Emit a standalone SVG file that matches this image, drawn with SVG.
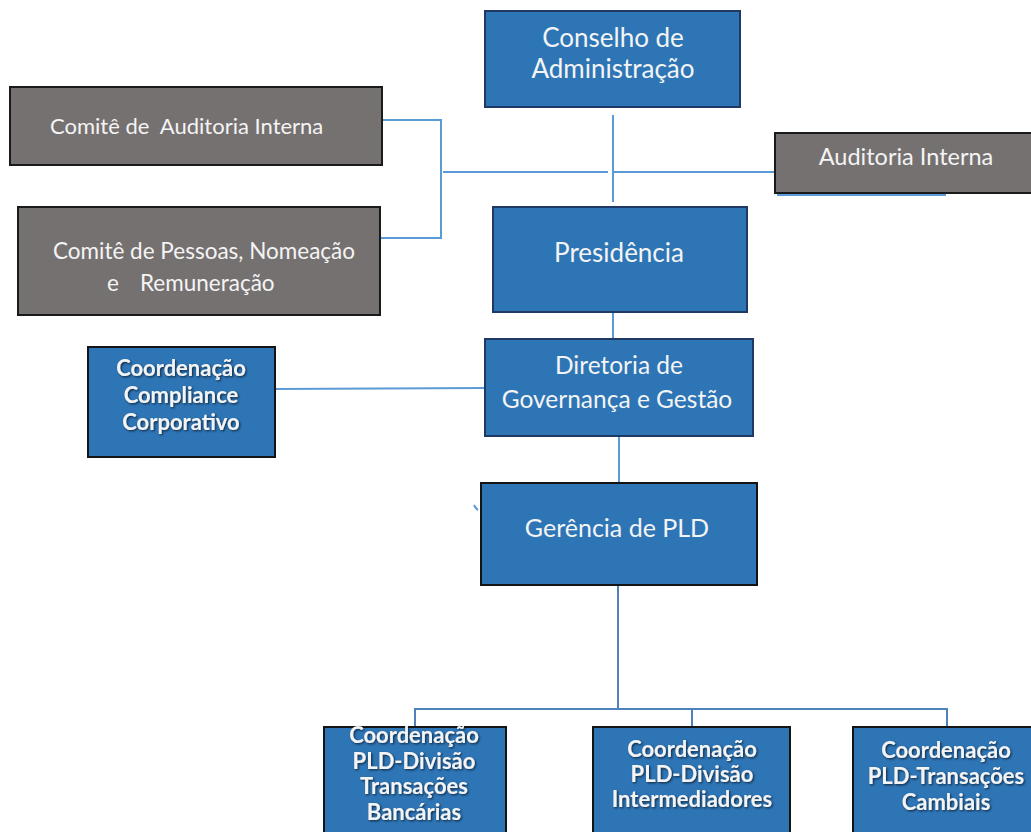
<svg xmlns="http://www.w3.org/2000/svg" width="1031" height="832" viewBox="0 0 1031 832">
<defs>
<filter id="sh" x="-10%" y="-30%" width="120%" height="160%">
<feDropShadow dx="1.2" dy="1.2" stdDeviation="0.9" flood-color="#000" flood-opacity="0.65"/>
</filter>
</defs>
<style>
.blue{fill:#2E75B6;stroke:#1F3864;stroke-width:2}
.blueb{fill:#2E75B6;stroke:#141414;stroke-width:2}
.gray{fill:#767171;stroke:#1a1a1a;stroke-width:2}
.t{font-family:Lato,"Open Sans","DejaVu Sans",sans-serif;fill:#F4F4F4;text-anchor:middle}
.tl{font-family:Lato,"Open Sans","DejaVu Sans",sans-serif;fill:#F4F4F4;white-space:pre}
.b{font-family:Lato,"Open Sans","DejaVu Sans",sans-serif;font-weight:bold;fill:#F4F4F4;text-anchor:middle;font-size:22px;filter:url(#sh)}
.c{stroke:#5B9BD5;stroke-width:2;fill:none}
.c2{stroke:#4F81BD;stroke-width:2;fill:none}
</style>
<rect width="1031" height="832" fill="#fff"/>
<g id="connectors">
<line class="c" x1="613" y1="115" x2="613" y2="202"/>
<line class="c" x1="443" y1="172" x2="608" y2="172"/>
<line class="c" x1="614" y1="172" x2="778" y2="172"/>
<line class="c" x1="441" y1="119" x2="441" y2="239"/>
<line class="c" x1="382" y1="120" x2="442" y2="120"/>
<line class="c" x1="380" y1="238" x2="442" y2="238"/>
<line class="c" x1="777" y1="195" x2="946" y2="195"/>
<line class="c" x1="613" y1="312" x2="613" y2="339"/>
<line class="c" x1="275" y1="389" x2="485" y2="388"/>
<line class="c" x1="619" y1="436" x2="619" y2="482"/>
<line class="c2" x1="618" y1="585" x2="618" y2="709"/>
<polyline class="c2" points="415,727 415,709 947,709 947,727"/>
<line class="c2" x1="692" y1="709" x2="692" y2="727"/>
<path class="c" d="M474,505 Q476,509 478,510" stroke-width="1.2"/>
</g>
<g id="conselho">
<rect class="blue" x="485" y="11" width="255" height="96"/>
<text class="t" x="613" y="47" font-size="26">Conselho de</text>
<text class="t" x="613" y="78" font-size="26">Administração</text>
</g>
<g id="comite-auditoria">
<rect class="gray" x="10" y="87" width="372" height="78"/>
<text class="tl" x="50" y="134" font-size="22">Comitê de  Auditoria Interna</text>
</g>
<g id="comite-pessoas">
<rect class="gray" x="18" y="207" width="362" height="108"/>
<text class="tl" x="53" y="259" font-size="22.5">Comitê de Pessoas, Nomeação</text>
<text class="tl" font-size="22.5" y="291"><tspan x="107">e</tspan><tspan x="140">Remuneração</tspan></text>
</g>
<g id="auditoria-interna">
<rect class="gray" x="775" y="133" width="265" height="60"/>
<text class="t" x="906" y="165" font-size="23.5">Auditoria Interna</text>
</g>
<g id="presidencia">
<rect class="blue" x="493" y="207" width="254" height="105"/>
<text class="t" x="619" y="262" font-size="26">Presidência</text>
</g>
<g id="compliance">
<rect class="blueb" x="88" y="347" width="187" height="110"/>
<text class="b" x="181" y="376" font-size="23.5">Coordenação</text>
<text class="b" x="181" y="403" font-size="23.5">Compliance</text>
<text class="b" x="181" y="430" font-size="23.5">Corporativo</text>
</g>
<g id="diretoria">
<rect class="blue" x="485" y="339" width="268" height="97"/>
<text class="t" x="619" y="374" font-size="24.5">Diretoria de</text>
<text class="t" x="617" y="408" font-size="24.5">Governança e Gestão</text>
</g>
<g id="gerencia">
<rect class="blueb" x="481" y="483" width="276" height="102"/>
<text class="t" x="617" y="537" font-size="25">Gerência de PLD</text>
</g>
<g id="coord-bancarias">
<rect class="blueb" x="324" y="727" width="182" height="115"/>
<text class="b" x="414" y="743">Coordenação</text>
<text class="b" x="414" y="768.5">PLD-Divisão</text>
<text class="b" x="414" y="794">Transações</text>
<text class="b" x="414" y="819.5">Bancárias</text>
</g>
<g id="coord-intermediadores">
<rect class="blueb" x="593" y="727" width="197" height="115"/>
<text class="b" x="692" y="757">Coordenação</text>
<text class="b" x="692" y="782">PLD-Divisão</text>
<text class="b" x="692" y="807">Intermediadores</text>
</g>
<g id="coord-cambiais">
<rect class="blueb" x="853" y="727" width="190" height="115"/>
<text class="b" x="946" y="758">Coordenação</text>
<text class="b" x="946" y="784">PLD-Transações</text>
<text class="b" x="946" y="810">Cambiais</text>
</g>
</svg>
